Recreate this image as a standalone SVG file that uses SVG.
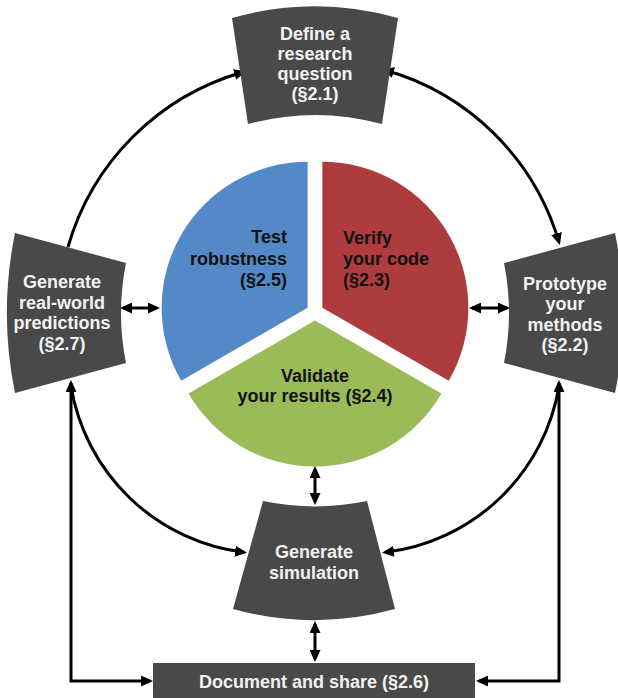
<svg xmlns="http://www.w3.org/2000/svg" width="618" height="698" viewBox="0 0 618 698">
<style>
.node{fill:#494949}
.nt{font-family:"Liberation Sans",Arial,sans-serif;font-weight:bold;font-size:18px;fill:#F2F2F2;text-anchor:middle}
.pt{font-family:"Liberation Sans",Arial,sans-serif;font-weight:bold;font-size:18px;fill:#111}
.c{fill:none;stroke:#000;stroke-width:3}
</style>
<defs>
<marker id="ah" viewBox="0 0 12 11" refX="9" refY="5.5" markerWidth="12" markerHeight="11" markerUnits="userSpaceOnUse" orient="auto-start-reverse">
<path d="M0,0 L12,5.5 L0,11 Z" fill="#000"/>
</marker>
</defs>
<rect width="618" height="698" fill="#fff"/>
<g id="pie">
<g id="test-robustness">
<path d="M307.64,307.75 L307.64,161.75 A146,146 0 0 0 181.2,380.75 Z" fill="#5389C6"/>
<text class="pt" text-anchor="end"><tspan x="287" y="243">Test</tspan><tspan x="287" y="264.5">robustness</tspan><tspan x="287" y="286">(§2.5)</tspan></text>
</g>
<g id="verify-code">
<path d="M322.36,307.75 L322.36,161.75 A146,146 0 0 1 448.8,380.75 Z" fill="#AE3C3D"/>
<text class="pt"><tspan x="343" y="244">Verify</tspan><tspan x="343" y="265">your code</tspan><tspan x="343" y="286">(§2.3)</tspan></text>
</g>
<g id="validate-results">
<path d="M315,320.5 L441.44,393.5 A146,146 0 0 1 188.56,393.5 Z" fill="#9BBB59"/>
<text class="pt" text-anchor="middle"><tspan x="315" y="381.5">Validate</tspan><tspan x="315" y="402">your results (§2.4)</tspan></text>
</g>
</g>
<g id="connectors">
<path class="c" d="M68,247 A255,255 0 0 1 243.2,72" marker-end="url(#ah)"/>
<path class="c" d="M384.8,70 A253,253 0 0 1 559,242.2" marker-start="url(#ah)" marker-end="url(#ah)"/>
<path class="c" d="M123,308 L157,308" marker-start="url(#ah)" marker-end="url(#ah)"/>
<path class="c" d="M472,308 L507,308" marker-start="url(#ah)" marker-end="url(#ah)"/>
<path class="c" d="M315,469 L315,502" marker-start="url(#ah)" marker-end="url(#ah)"/>
<path class="c" d="M315,624 L315,659" marker-start="url(#ah)" marker-end="url(#ah)"/>
<path class="c" d="M71,386 A200,200 0 0 0 244,552.3" marker-end="url(#ah)"/>
<path class="c" d="M559,386 A200,200 0 0 1 385,552.3" marker-end="url(#ah)"/>
<path class="c" d="M71,383 L71,681 L150,681" marker-start="url(#ah)" marker-end="url(#ah)"/>
<path class="c" d="M559,383 L559,681 L479,681" marker-start="url(#ah)" marker-end="url(#ah)"/>
</g>
<g id="define-question">
<path class="node" d="M232,18 A305,305 0 0 1 398,18 L382,124 A255,255 0 0 0 248,124 Z"/>
<text class="nt"><tspan x="315" y="39.5">Define a</tspan><tspan x="315" y="59.5">research</tspan><tspan x="315" y="79.5">question</tspan><tspan x="315" y="99.5">(§2.1)</tspan></text>
</g>
<g id="generate-predictions">
<path class="node" d="M15,233 L126,263 A255,255 0 0 0 126,363 L15,393 A400,400 0 0 1 15,233 Z"/>
<text class="nt"><tspan x="62" y="288">Generate</tspan><tspan x="62" y="308.5">real-world</tspan><tspan x="62" y="329">predictions</tspan><tspan x="62" y="349.5">(§2.7)</tspan></text>
</g>
<g id="prototype-methods">
<path class="node" d="M504,263 L615,233 A400,400 0 0 1 615,393 L504,363 A255,255 0 0 0 504,263 Z"/>
<text class="nt"><tspan x="565" y="289.5">Prototype</tspan><tspan x="565" y="310">your</tspan><tspan x="565" y="330.5">methods</tspan><tspan x="565" y="351">(§2.2)</tspan></text>
</g>
<g id="generate-simulation">
<path class="node" d="M263,501 A255,255 0 0 0 367,501 L395,609 A305,305 0 0 1 233,609 Z"/>
<text class="nt"><tspan x="314" y="557.5">Generate</tspan><tspan x="314" y="578.5">simulation</tspan></text>
</g>
<g id="document-share">
<rect class="node" x="153" y="663" width="322" height="36"/>
<text class="nt" x="314" y="687.5">Document and share (§2.6)</text>
</g>
</svg>
